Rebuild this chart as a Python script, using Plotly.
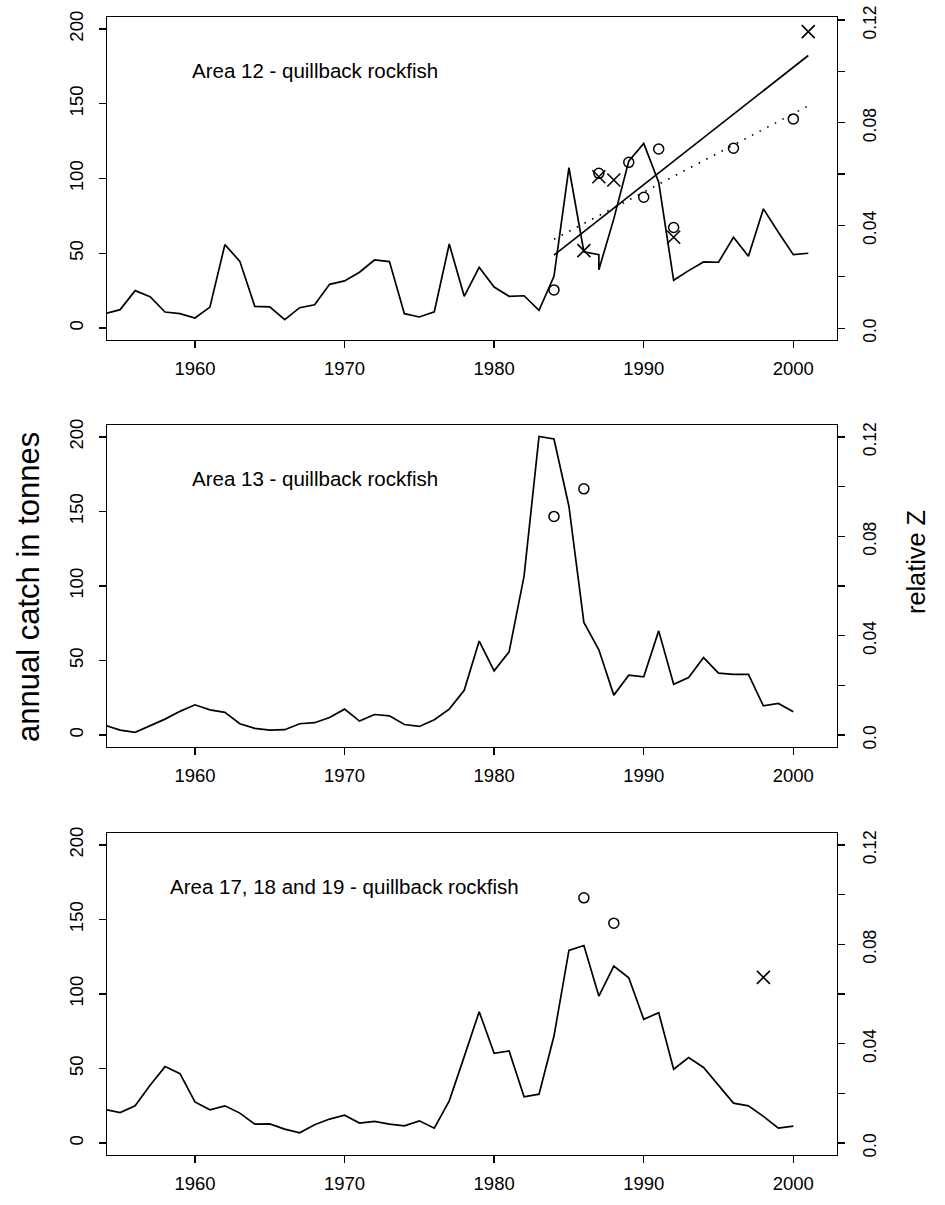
import numpy as np
import plotly.graph_objects as go

# ---------------- data ----------------
years_12 = [1954, 1955, 1956, 1957, 1958, 1959, 1960, 1961, 1962, 1963, 1964, 1965,
            1966, 1967, 1968, 1969, 1970, 1971, 1972, 1973, 1974, 1975, 1976, 1977,
            1978, 1979, 1980, 1981, 1982, 1983, 1984, 1985, 1986, 1987, 1987, 1988,
            1989, 1990, 1991, 1992, 1993, 1994, 1995, 1996, 1997, 1998, 1999, 2000, 2001]
catch_12 = [9.7, 12.3, 25, 21, 10.7, 9.6, 6.7, 14, 55.8, 44.6, 14.5, 14.2,
            5.6, 13.6, 15.6, 29.2, 31.5, 37.3, 45.5, 44.4, 9.6, 7.4, 10.9, 56.2,
            21.2, 40.6, 27.4, 21.2, 21.6, 11.8, 34.6, 107.2, 51, 49, 39, 73,
            111.6, 123.4, 97.5, 31.9, 38.4, 44.2, 44, 60.7, 48, 79.7, 64, 49.1, 50]

years_13 = list(range(1954, 2001))
catch_13 = [6.6, 3.3, 1.8, 6.2, 10.7, 15.9, 20.3, 16.9, 15.2, 7.6, 4.5, 3.3,
            3.6, 7.6, 8.3, 11.8, 17.4, 9.4, 13.8, 12.9, 7.1, 5.8, 10.3, 17.4,
            30, 63.1, 43.1, 55.8, 106.6, 200.3, 198.6, 153.5, 75.5, 57.2, 26.8, 40.2,
            39.1, 69.9, 34.1, 38.6, 52, 41.6, 40.7, 40.7, 19.6, 21.2, 15.6]

years_17 = list(range(1954, 2001))
catch_17 = [22.6, 20.5, 25, 38.8, 51.3, 46.6, 27.6, 22.3, 25, 20.1, 12.7, 12.9,
            9.4, 6.9, 12.3, 16.1, 18.7, 13.4, 14.5, 12.7, 11.6, 14.9, 10, 28.3,
            58, 88.1, 60.2, 61.8, 31, 32.8, 71.8, 129.2, 132.5, 98.6, 118.7, 110.9,
            83, 87.5, 49.5, 57.4, 50.7, 38.4, 26.8, 25, 17.9, 10, 11.4]

# relative Z estimates (right axis)
circ_yr_12 = [1984, 1987, 1989, 1990, 1991, 1992, 1996, 2000]
circ_z_12 = [0.0149, 0.0603, 0.0646, 0.0510, 0.0698, 0.0392, 0.0701, 0.0815]
x_yr_12 = [1986, 1987, 1988, 1992, 2001]
x_z_12 = [0.0302, 0.0590, 0.0577, 0.0354, 0.1155]

circ_yr_13 = [1984, 1986]
circ_z_13 = [0.0880, 0.0991]

circ_yr_17 = [1986, 1988]
circ_z_17 = [0.0987, 0.0885]
x_yr_17 = [1998]
x_z_17 = [0.0667]

titles = ["Area 12 - quillback rockfish",
          "Area 13 - quillback rockfish",
          "Area 17, 18 and 19 - quillback rockfish"]

x_ticks = [1960, 1970, 1980, 1990, 2000]
left_ticks = [0, 50, 100, 150, 200]
right_ticks = [0.0, 0.02, 0.04, 0.06, 0.08, 0.10, 0.12]
right_text = ["0.0", "", "0.04", "", "0.08", "", "0.12"]

# ---------------- layout geometry ----------------
W, H = 945, 1205
BOX_L, BOX_R, BOX_T, BOX_B = 107, 837, 17, 1155
ML = BOX_L
MR = W - BOX_R
MT = BOX_T
MB = H - BOX_B
PW = BOX_R - BOX_L
PH = BOX_B - BOX_T


def py(pix):
    """screen pixel row -> paper y"""
    return (BOX_B - pix) / PH


def px(pix):
    """screen pixel column -> paper x"""
    return (pix - BOX_L) / PW


panels = [(17, 340), (425, 747), (833, 1155)]
right_ranges = [[-0.0046, 0.1212], [-0.0048, 0.1248], [-0.0048, 0.1248]]
FONT = "Liberation Sans, Arial, Helvetica, sans-serif"

fig = go.Figure()

LW = 1.7
line_style = dict(color="black", width=LW)

series = [(years_12, catch_12), (years_13, catch_13), (years_17, catch_17)]
for i, (yrs, cat) in enumerate(series):
    n = i + 1
    fig.add_trace(go.Scatter(x=yrs, y=cat, mode="lines", line=line_style,
                             xaxis=f"x{'' if n == 1 else n}", yaxis=f"y{'' if n == 1 else n}",
                             showlegend=False, cliponaxis=True))

circ_style = dict(symbol="circle-open", size=10, color="black", line=dict(width=1.5, color="black"))
x_style = dict(symbol="x-thin-open", size=13, color="black", line=dict(width=1.6, color="black"))

# panel 1 regression lines (fitted to the two sets of Z estimates)
span = np.array([min(circ_yr_12 + x_yr_12), max(circ_yr_12 + x_yr_12)], dtype=float)
b_x = np.polyfit(x_yr_12, x_z_12, 1)
b_c = np.polyfit(circ_yr_12, circ_z_12, 1)
fig.add_trace(go.Scatter(x=span, y=np.polyval(b_x, span), mode="lines",
                         line=dict(color="black", width=LW), xaxis="x", yaxis="y4", showlegend=False))
fig.add_trace(go.Scatter(x=span, y=np.polyval(b_c, span), mode="lines",
                         line=dict(color="black", width=1.6, dash="1.6px,7px"),
                         xaxis="x", yaxis="y4", showlegend=False))

fig.add_trace(go.Scatter(x=circ_yr_12, y=circ_z_12, mode="markers", marker=circ_style,
                         xaxis="x", yaxis="y4", showlegend=False))
fig.add_trace(go.Scatter(x=x_yr_12, y=x_z_12, mode="markers", marker=x_style,
                         xaxis="x", yaxis="y4", showlegend=False))
fig.add_trace(go.Scatter(x=circ_yr_13, y=circ_z_13, mode="markers", marker=circ_style,
                         xaxis="x2", yaxis="y5", showlegend=False))
fig.add_trace(go.Scatter(x=circ_yr_17, y=circ_z_17, mode="markers", marker=circ_style,
                         xaxis="x3", yaxis="y6", showlegend=False))
fig.add_trace(go.Scatter(x=x_yr_17, y=x_z_17, mode="markers", marker=x_style,
                         xaxis="x3", yaxis="y6", showlegend=False))

tickfont = dict(family=FONT, size=18.5, color="black")
axis_common = dict(showgrid=False, zeroline=False, ticks="outside", ticklen=7,
                   tickwidth=1.3, tickcolor="black", tickfont=tickfont, automargin=False,
                   ticklabeloverflow="allow")

layout = dict(width=W, height=H, margin=dict(l=ML, r=MR, t=MT, b=MB, autoexpand=False),
              paper_bgcolor="white", plot_bgcolor="white", showlegend=False,
              font=dict(family=FONT, color="black"))

for i, (top, bot) in enumerate(panels):
    n = i + 1
    sfx = "" if n == 1 else str(n)
    dom = [py(bot), py(top)]
    layout[f"xaxis{sfx}"] = dict(axis_common, domain=[0, 1], anchor=f"y{sfx}",
                                  range=[1954.12, 2002.92], tickvals=x_ticks,
                                  showline=True, linecolor="black", linewidth=1.3,
                                  mirror=True, ticklabelstandoff=4)
    layout[f"yaxis{sfx}"] = dict(axis_common, domain=dom, anchor=f"x{sfx}",
                                  range=[-8, 208], tickvals=left_ticks, tickangle=-90,
                                  showline=True, linecolor="black", linewidth=1.3,
                                  mirror=True, ticklabelstandoff=8)
    layout[f"yaxis{n + 3}"] = dict(axis_common, overlaying=f"y{sfx}", side="right",
                                   anchor=f"x{sfx}", range=right_ranges[i],
                                   tickvals=right_ticks, ticktext=right_text,
                                   tickangle=-90, showline=False, ticklabelstandoff=10,
                                   ticklabelshift=5,
                                   tickfont=dict(family=FONT, size=17.5, color="black"))

annotations = []
title_x = [1959.7, 1959.7, 1958.2]
for i, t in enumerate(titles):
    n = i + 1
    sfx = "" if n == 1 else str(n)
    annotations.append(dict(x=title_x[i], y=172, xref=f"x{sfx}", yref=f"y{sfx}",
                            text=t, showarrow=False, xanchor="left", yanchor="middle",
                            font=dict(family=FONT, size=20.5, color="black")))

annotations.append(dict(x=px(28), y=py(587), xref="paper", yref="paper",
                        text="annual catch in tonnes", textangle=-90, showarrow=False,
                        xanchor="center", yanchor="middle",
                        font=dict(family=FONT, size=31, color="black")))
annotations.append(dict(x=px(916), y=py(562), xref="paper", yref="paper",
                        text="relative Z", textangle=-90, showarrow=False,
                        xanchor="center", yanchor="middle",
                        font=dict(family=FONT, size=25.3, color="black")))
layout["annotations"] = annotations

fig.update_layout(**layout)
# remove the browser's default 8px body margin so the figure sits at the page origin
fig.write_html("out.html", config={"displayModeBar": False, "staticPlot": True},
               post_script="document.body.style.margin='0px';document.body.style.overflow='hidden';")
